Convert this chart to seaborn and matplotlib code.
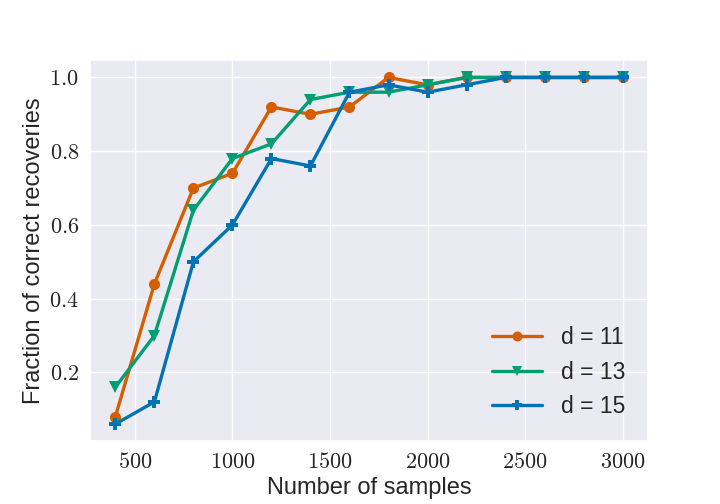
import matplotlib
matplotlib.use("Agg")
import matplotlib.pyplot as plt
from matplotlib.ticker import FuncFormatter
import seaborn as sns
import pandas as pd

# Recovery results
samples = [400, 600, 800, 1000, 1200, 1400, 1600, 1800, 2000, 2200, 2400, 2600, 2800, 3000]
frac_d11 = [0.08, 0.44, 0.70, 0.74, 0.92, 0.90, 0.92, 1.00, 0.98, 1.00, 1.00, 1.00, 1.00, 1.00]
frac_d13 = [0.16, 0.30, 0.64, 0.78, 0.82, 0.94, 0.96, 0.96, 0.98, 1.00, 1.00, 1.00, 1.00, 1.00]
frac_d15 = [0.06, 0.12, 0.50, 0.60, 0.78, 0.76, 0.96, 0.98, 0.96, 0.98, 1.00, 1.00, 1.00, 1.00]
dims = ["d = 11", "d = 13", "d = 15"]

sns.set_theme(style="darkgrid")
plt.rcParams["font.family"] = ["Liberation Sans", "DejaVu Sans"]
plt.rcParams["mathtext.fontset"] = "cm"

pal = sns.color_palette("colorblind")
colors = {"d = 11": pal[3], "d = 13": pal[2], "d = 15": pal[0]}
markers = {"d = 11": "o", "d = 13": "v", "d = 15": "P"}

rows = []
for label, vals in zip(dims, [frac_d11, frac_d13, frac_d15]):
    for n, v in zip(samples, vals):
        rows.append({"n": n, "frac": v, "d": label})
df = pd.DataFrame(rows)

fig, ax = plt.subplots(figsize=(7.2, 5.04), dpi=100)
fig.subplots_adjust(left=0.125, right=0.9, top=0.88, bottom=0.125)

sns.lineplot(data=df, x="n", y="frac", hue="d", style="d", hue_order=dims,
             palette=colors, markers=markers, dashes=False, linewidth=2.4,
             markersize=8, markeredgewidth=0, ax=ax)

ax.set_xlabel("Number of samples", fontsize=17, labelpad=3)
ax.set_ylabel("Fraction of correct recoveries", fontsize=17, labelpad=3)
ax.xaxis.set_major_formatter(FuncFormatter(lambda v, p: r"$%d$" % v))
ax.yaxis.set_major_formatter(FuncFormatter(lambda v, p: r"$%.1f$" % v))
ax.tick_params(labelsize=16, pad=2)
ax.set_xlim(270, 3130)
ax.set_ylim(0.014, 1.046)
ax.set_xticks([500, 1000, 1500, 2000, 2500, 3000])
ax.set_yticks([0.2, 0.4, 0.6, 0.8, 1.0])

ax.legend(loc="lower right", frameon=False, fontsize=16.5, title=None,
          borderaxespad=0.6, handlelength=2.2, markerscale=0.9)

fig.savefig("out.png", dpi=100)
